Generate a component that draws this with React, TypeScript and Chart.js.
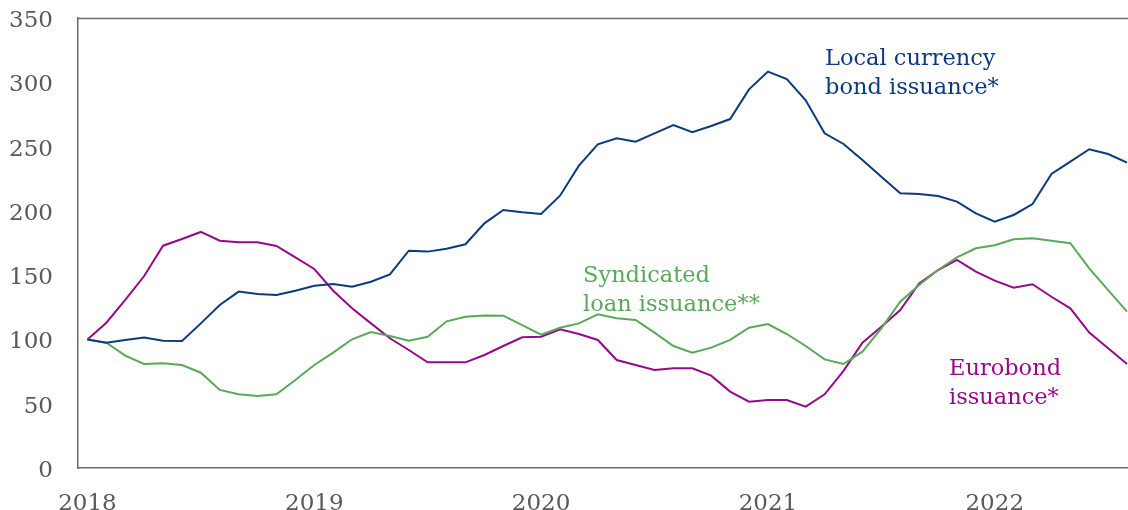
import React, { useEffect, useRef } from "react";
import { Chart, registerables } from "chart.js";

Chart.register(...registerables);

const yearLabels = ["2018", "2019", "2020", "2021", "2022"];
const yearTickIndex = [0, 12, 24, 36, 48];
const yTicks = [0, 50, 100, 150, 200, 250, 300, 350];

const localCurrencyBond = [
  100, 97.5, 99.5, 101.4, 99, 98.8, 112.5, 126.8, 137.2, 135.3, 134.5, 137.9,
  141.8, 143.1, 141, 144.9, 150.6, 169, 168.3, 170.6, 174, 190.3, 200.7, 198.9,
  197.6, 211.8, 235.2, 251.8, 256.4, 253.8, 260.3, 266.8, 261.1, 266, 271.4, 294.5,
  308.3, 302.5, 286, 260.3, 252, 239.6, 226.6, 213.6, 213.1, 211.6, 207.2, 198.1,
  191.6, 196.8, 205.3, 228.7, 238.3, 247.9, 244.2, 237.5,
];

const syndicatedLoan = [
  100, 97.5, 87.4, 80.9, 81.4, 80.1, 74.1, 60.7, 57.3, 56, 57.3, 68.4,
  80.1, 89.7, 100.1, 105.8, 102.7, 99, 102.1, 114.1, 117.7, 118.7, 118.5, 111.2,
  103.7, 109.1, 112.5, 119.5, 116.4, 115.1, 105.3, 94.9, 89.7, 93.6, 99.6, 109.1,
  112, 104.2, 94.9, 84.5, 80.9, 90.5, 108.6, 129.4, 142.3, 154, 163.9, 170.9,
  173.2, 177.9, 178.6, 176.8, 174.8, 155.3, 138.4, 121.6,
];

const eurobond = [
  100, 113, 130.7, 149.3, 172.9, 178.1, 183.6, 176.8, 175.5, 175.5, 172.7, 163.9,
  154.8, 137.9, 124.2, 112.5, 100.9, 91.8, 82.2, 82.2, 82.2, 87.9, 94.9, 101.7,
  102.1, 107.9, 104.2, 99.6, 84, 80.1, 76.2, 77.5, 77.5, 71.8, 59.4, 51.6,
  52.9, 52.9, 47.7, 57.3, 75.5, 97.5, 109.9, 122.9, 143.6, 154, 161.8, 152.7,
  145.7, 140.2, 142.9, 133.2, 124.2, 105.3, 93.1, 80.9,
];

const NAVY = "#0d3a7c";
const GREEN = "#5aa85a";
const MAGENTA = "#960a88";
const AXIS = "#6b6b6b";
const TICK_TEXT = "#595959";
const FONT = "'DejaVu Serif', 'Liberation Serif', serif";

const annotations = [
  { lines: ["Local currency", "bond issuance*"], color: NAVY, x: 825, y: 65 },
  { lines: ["Syndicated", "loan issuance**"], color: GREEN, x: 583, y: 282 },
  { lines: ["Eurobond", "issuance*"], color: MAGENTA, x: 949, y: 375 },
];

const frameAndNotes = {
  id: "frameAndNotes",
  afterDraw(chart: any) {
    const { ctx, chartArea } = chart;
    ctx.save();
    ctx.strokeStyle = AXIS;
    ctx.lineWidth = 1.5;
    ctx.beginPath();
    ctx.moveTo(chartArea.left, chartArea.top + 0.5);
    ctx.lineTo(chartArea.right + 5, chartArea.top + 0.5);
    ctx.stroke();
    ctx.font = `22.5px ${FONT}`;
    ctx.textAlign = "left";
    ctx.textBaseline = "alphabetic";
    for (const a of annotations) {
      ctx.fillStyle = a.color;
      a.lines.forEach((t, i) => ctx.fillText(t, a.x, a.y + i * 29));
    }
    ctx.restore();
  },
};

export default function App() {
  const ref = useRef<HTMLCanvasElement | null>(null);
  useEffect(() => {
    if (!ref.current) return;
    const mk = (data: number[], color: string) => ({
      data: data.map((v, i) => ({ x: i, y: v })),
      borderColor: color,
      borderWidth: 2,
      pointRadius: 0,
      tension: 0,
      fill: false,
    });
    const chart = new Chart(ref.current, {
      type: "line",
      data: {
        datasets: [
          mk(localCurrencyBond, NAVY),
          mk(syndicatedLoan, GREEN),
          mk(eurobond, MAGENTA),
        ],
      },
      options: {
        animation: false,
        responsive: false,
        maintainAspectRatio: false,
        layout: { padding: { top: 18, right: 0, left: 0, bottom: 0 } },
        plugins: { legend: { display: false }, tooltip: { enabled: false } },
        scales: {
          x: {
            type: "linear",
            min: -0.5,
            max: 55.05,
            grid: { display: false, drawTicks: false },
            border: { display: true, color: AXIS, width: 1.5 },
            afterBuildTicks: (scale: any) => {
              scale.ticks = yearTickIndex.map((v) => ({ value: v }));
            },
            afterFit: (scale: any) => {
              scale.height = 42;
              scale.paddingTop = 0;
              scale.paddingBottom = 0;
            },
            ticks: {
              autoSkip: false,
              maxRotation: 0,
              padding: 22,
              color: TICK_TEXT,
              font: { family: FONT, size: 23 },
              callback: (v: any) => {
                const k = yearTickIndex.indexOf(Number(v));
                return k >= 0 ? yearLabels[k] : "";
              },
            },
          },
          y: {
            min: 0,
            max: 350,
            grid: { display: false, drawTicks: false },
            border: { display: true, color: AXIS, width: 1.5 },
            afterBuildTicks: (scale: any) => {
              scale.ticks = yTicks.map((v) => ({ value: v }));
            },
            afterFit: (scale: any) => {
              scale.width = 78;
              scale.paddingTop = 0;
              scale.paddingBottom = 0;
            },
            ticks: {
              padding: 25,
              labelOffset: 3,
              color: TICK_TEXT,
              font: { family: FONT, size: 23 },
            },
          },
        },
      },
      plugins: [frameAndNotes],
    });
    return () => chart.destroy();
  }, []);
  return (
    <div style={{ position: "fixed", left: 0, top: 0, width: 1128, height: 510, background: "#fff" }}>
      <canvas ref={ref} width={1128} height={510} style={{ display: "block" }} />
    </div>
  );
}
